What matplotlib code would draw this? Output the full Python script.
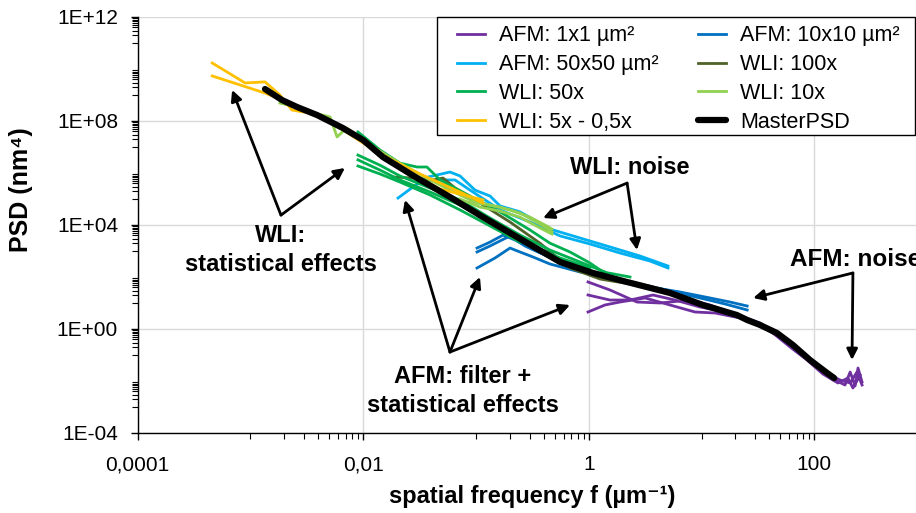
import matplotlib
matplotlib.use("Agg")
import matplotlib.pyplot as plt
from matplotlib.patches import Rectangle
from matplotlib.ticker import FixedLocator, NullFormatter

# --- data (f in 1/um, PSD in nm^4) ---

master_f = [1.35e-3, 1.91e-3, 2.6e-3, 3.9e-3, 6.6e-3, 9.98e-3, 0.015, 0.0301, 0.0589,
            0.1156, 0.2312, 0.5566, 1.091, 2.185, 5.26, 10.3, 20.6, 25.4, 33.0, 46.7,
            64.7, 91.6, 130, 150]
master_psd = [1.7e9, 6.4e8, 3.45e8, 1.7e8, 5.4e7, 1.86e7, 4.1e6, 6.4e5, 1.19e5,
              2.0e4, 3.45e3, 378, 143, 64.3, 24.3, 8.38, 3.45, 2.22, 1.43, 0.70,
              0.243, 0.0643, 0.0203, 0.013]

wli5_f = [[4.6e-4, 9.0e-4, 1.35e-3, 1.83e-3, 2.34e-3, 3.38e-3, 5.09e-3, 9.4e-3, 0.0212, 0.0481, 0.1156],
          [4.6e-4, 1.35e-3, 2.76e-3, 6.24e-3, 0.0141, 0.0319, 0.0723, 0.1156]]
wli5_psd = [[1.7e10, 2.9e9, 3.2e9, 1.0e9, 2.65e8, 2.0e8, 9.2e7, 2.2e7, 1.7e6, 2.43e5, 9.2e4],
            [5.4e9, 1.19e9, 3.2e8, 5.4e7, 5.4e6, 9.2e5, 1.86e5, 7.0e4]]

wli10_f = [[1.83e-3, 2.76e-3, 3.75e-3, 5.09e-3, 5.88e-3, 7.14e-3, 0.0115, 0.0212, 0.0392,
            0.0723, 0.1023, 0.1637, 0.246, 0.370, 0.4724],
           [0.0723, 0.1087, 0.1637, 0.246, 0.370, 0.4724],
           [0.0887, 0.1334, 0.2006, 0.3017, 0.4095, 0.4724]]
wli10_psd = [[4.9e8, 3.2e8, 2.0e8, 1.43e8, 2.43e7, 5.4e7, 1.19e7, 2.4e6, 5.4e5,
              1.43e5, 7.0e4, 4.9e4, 2.9e4, 1.09e4, 5.4e3],
             [1.0e5, 4.9e4, 3.45e4, 2.0e4, 7.7e3, 4.5e3],
             [8.4e4, 5.9e4, 3.8e4, 2.0e4, 1.0e4, 7.0e3]]

wli50_f = [[9.0e-3, 0.0141, 0.0212, 0.0301, 0.0368, 0.0481, 0.0887, 0.1637, 0.3017, 0.4535,
            0.6828, 1.026, 1.34, 2.323],
           [9.0e-3, 0.0141, 0.0212, 0.0392, 0.0723, 0.1334, 0.246, 0.4535, 0.8368, 1.394],
           [9.0e-3, 0.0141, 0.0212, 0.0392, 0.0723, 0.1334, 0.246, 0.5566, 1.026],
           [9.0e-3, 0.0141, 0.0212, 0.0392, 0.0723, 0.1334, 0.246]]
wli50_psd = [[3.8e7, 7.7e6, 2.4e6, 1.7e6, 1.7e6, 5.4e5, 1.3e5, 3.2e4, 6.43e3, 2.0e3,
              916, 345, 156, 100],
             [4.9e6, 2.0e6, 7.7e5, 2.65e5, 9.2e4, 1.86e4, 4.1e3, 1.09e3, 378, 156],
             [3.2e6, 1.3e6, 5.4e5, 1.86e5, 5.9e4, 1.3e4, 2.65e3, 538, 222],
             [1.86e6, 9.2e5, 4.5e5, 1.43e5, 3.8e4, 9.2e3, 2.2e3]]

wli100_f = [0.0184, 0.0277, 0.0417, 0.0511, 0.0653, 0.1087, 0.2006, 0.3701, 0.6828,
            1.259, 2.323, 4.285]
wli100_psd = [7.0e5, 6.4e5, 5.4e5, 6.4e5, 2.65e5, 7.0e4, 1.3e4, 2.0e3, 222, 83.8, 53.8, 34.5]

afm50_f = [[0.0204, 0.0277, 0.0376, 0.0589, 0.0723, 0.0982, 0.1334, 0.1637, 0.246, 0.4535,
            0.8368, 1.545, 2.850, 5.046],
           [0.0319, 0.0481, 0.0653, 0.0887, 0.1205, 0.1637, 0.3017, 0.5566, 1.026, 1.893,
            3.493, 5.046]]
afm50_psd = [[1.09e5, 2.9e5, 7.0e5, 1.09e6, 7.7e5, 2.2e5, 1.3e5, 5.4e4, 3.2e4, 7.0e3,
              3.16e3, 1.43e3, 643, 265],
             [4.5e5, 5.4e5, 5.4e5, 2.2e5, 9.2e4, 3.8e4, 1.3e4, 3.8e3, 1.86e3, 838, 412, 222]]

afm10_f = [[0.1023, 0.1334, 0.1740, 0.2223, 0.3017, 0.5566, 1.026, 1.893, 3.493, 6.44,
            11.9, 17.9, 25.4],
           [0.1023, 0.1334, 0.2006, 0.2723, 0.4095, 0.7558, 1.394, 2.850, 5.26, 9.70, 16.2, 25.4],
           [0.1023, 0.1477, 0.2006, 0.246, 0.3209, 0.4535, 0.8368, 1.545]]
afm10_psd = [[1.3e3, 2.2e3, 4.1e3, 2.65e3, 1.3e3, 378, 156, 76.7, 41.2, 26.5, 15.6, 10.9, 7.67],
             [916, 1.56e3, 3.8e3, 1.56e3, 700, 265, 109, 53.8, 29.0, 15.6, 9.16, 5.38],
             [222, 538, 1.3e3, 916, 588, 316, 156, 91.6]]

afm1_f = [[0.9862, 1.545, 2.680, 4.285, 7.91, 11.9, 17.9, 33.0, 61.0, 86.1, 119, 153, 187,
           208, 230, 244, 265],
          [0.9862, 1.545, 2.323, 3.715, 5.82, 9.70, 16.2, 29.9, 43.0, 61.0, 86.1, 119, 162,
           199, 220, 255],
          [0.9862, 1.394, 1.893, 3.155, 5.26, 8.75, 13.2, 22.0, 33.0, 61.0, 86.1, 119, 169,
           208, 239, 265]]
afm1_psd = [[64.3, 31.6, 10.9, 10.0, 13.0, 8.38, 4.51, 1.70, 0.243, 0.0767, 0.0222, 0.0109,
             0.00702, 0.0222, 0.00643, 0.0316, 0.00916],
            [20.3, 13.0, 13.0, 20.3, 13.0, 7.02, 4.51, 1.86, 0.70, 0.203, 0.0643, 0.0186,
             0.00838, 0.0130, 0.00538, 0.0170],
            [4.51, 8.38, 10.9, 15.6, 8.38, 4.51, 4.12, 2.65, 1.43, 0.265, 0.0838, 0.0243,
             0.0109, 0.00838, 0.0222, 0.00702]]

x_ticks = [1e-4, 1e-2, 1, 100]
x_tick_labels = ["0,0001", "0,01", "1", "100"]
y_ticks = [1e-4, 1, 1e4, 1e8, 1e12]
y_tick_labels = ["1E-04", "1E+00", "1E+04", "1E+08", "1E+12"]

plt.rcParams["font.family"] = ["Liberation Sans", "DejaVu Sans"]

W, H = 916, 513
fig = plt.figure(figsize=(W / 100, H / 100), dpi=100)
# axes runs a bit past the right edge of the figure, like the original
ax = fig.add_axes([137.5 / W, 80 / H, 789.6 / W, 416 / H])

lw = 2.0
for f, p in zip(afm1_f, afm1_psd):
    h_afm1, = ax.plot(f, p, color="#7030A0", lw=lw)
for f, p in zip(afm10_f, afm10_psd):
    h_afm10, = ax.plot(f, p, color="#0070C0", lw=lw)
for f, p in zip(afm50_f, afm50_psd):
    h_afm50, = ax.plot(f, p, color="#00B0F0", lw=lw)
h_wli100, = ax.plot(wli100_f, wli100_psd, color="#4F6228", lw=lw)
for f, p in zip(wli50_f, wli50_psd):
    h_wli50, = ax.plot(f, p, color="#00B050", lw=lw)
for f, p in zip(wli10_f, wli10_psd):
    h_wli10, = ax.plot(f, p, color="#92D050", lw=lw)
for f, p in zip(wli5_f, wli5_psd):
    h_wli5, = ax.plot(f, p, color="#FFC000", lw=lw)
h_master, = ax.plot(master_f, master_psd, color="black", lw=4.5,
                    solid_capstyle="round", solid_joinstyle="round")

ax.set_xscale("log")
ax.set_yscale("log")
ax.set_xlim(1e-4, 1e3)
ax.set_ylim(1e-4, 1e12)

ax.set_xticks(x_ticks, x_tick_labels, fontsize=15)
ax.set_yticks(y_ticks, y_tick_labels, fontsize=15)
x_minor = [k * 10.0 ** j for j in (-3, -1, 1) for k in range(1, 10)]
y_minor = [k * 10.0 ** j for j in (-3, -1, 1, 3, 5, 7, 9, 11) for k in range(1, 10)]
ax.xaxis.set_minor_locator(FixedLocator(x_minor))
ax.yaxis.set_minor_locator(FixedLocator(y_minor))
ax.xaxis.set_minor_formatter(NullFormatter())
ax.yaxis.set_minor_formatter(NullFormatter())
ax.tick_params(which="major", length=5, width=1, direction="out")
ax.tick_params(axis="x", which="major", pad=11)
ax.tick_params(axis="y", which="major", pad=9)
ax.tick_params(which="minor", length=4, width=0.8, direction="out")

ax.grid(True, which="major", color="#D9D9D9", lw=1)
ax.set_axisbelow(True)
for s in ["top", "right"]:
    ax.spines[s].set_visible(False)
for s in ["left", "bottom"]:
    ax.spines[s].set_linewidth(1)

ax.set_xlabel("spatial frequency f (µm⁻¹)", fontsize=17, fontweight="bold", labelpad=8)
ax.set_ylabel("PSD (nm⁴)", fontsize=18, fontweight="bold")
ax.yaxis.set_label_coords(-0.132, 0.584)

# legend box drawn by hand so the entries can sit where the original has them
fig.add_artist(Rectangle((437 / W, 1 - 135 / H), 478 / W, 118 / H,
                         transform=fig.transFigure, facecolor="white",
                         edgecolor="black", lw=1, zorder=4))
# legend filled column by column -> reorder to match the original row order
handles = [h_afm1, h_afm50, h_wli50, h_wli5, h_afm10, h_wli100, h_wli10, h_master]
labels = ["AFM: 1x1 µm²", "AFM: 50x50 µm²", "WLI: 50x", "WLI: 5x - 0,5x",
          "AFM: 10x10 µm²", "WLI: 100x", "WLI: 10x", "MasterPSD"]
leg = fig.legend(handles, labels, ncol=2, loc="upper left",
                 bbox_to_anchor=(457 / W, 1 - 25.5 / H), borderaxespad=0,
                 fontsize=15.5, frameon=False, handlelength=1.3, handletextpad=0.65,
                 columnspacing=1.85, labelspacing=0.36, borderpad=0)
leg.set_zorder(5)

# annotations
txt = dict(fontsize=17, fontweight="bold", ha="center", va="center", linespacing=1.35)
arr = dict(arrowstyle="-|>", color="black", lw=2, mutation_scale=16, shrinkA=0, shrinkB=0)

ax.text(1.87e-3, 1.09e3, "WLI:\nstatistical effects", **txt)
for tip in [(6.9e-4, 1.56e9), (6.9e-3, 1.56e6)]:
    ax.annotate("", xy=tip, xytext=(1.87e-3, 2.4e4), arrowprops=arr)

ax.text(2.32, 1.7e6, "WLI: noise", **txt)
for tip in [(0.394, 1.86e4), (2.68, 1.09e3)]:
    ax.annotate("", xy=tip, xytext=(2.19, 4.1e5), arrowprops=arr)

ax.text(61, 470, "AFM: noise", fontsize=17.5, fontweight="bold", ha="left", va="center")
for tip in [(28.7, 15.6), (216, 0.0643)]:
    ax.annotate("", xy=tip, xytext=(220, 143), arrowprops=arr)

ax.text(0.0769, 4.1e-3, "AFM: filter +\nstatistical effects", **txt)
for tip in [(0.0235, 9.2e4), (0.1087, 100), (0.6828, 8.38)]:
    ax.annotate("", xy=tip, xytext=(0.0589, 0.130), arrowprops=arr)

fig.savefig("out.png", dpi=100)
